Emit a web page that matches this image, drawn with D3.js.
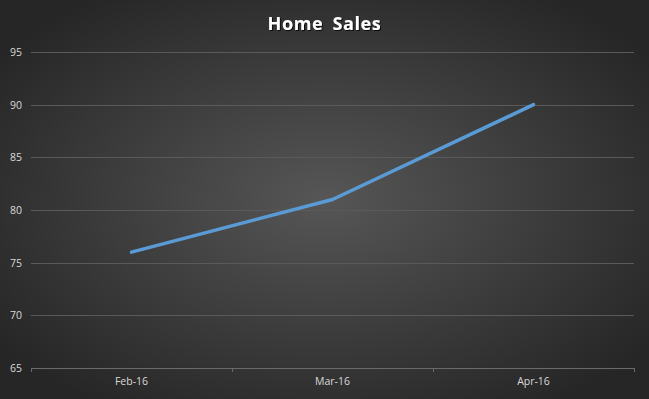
<!DOCTYPE html>
<html><head><meta charset="utf-8">
<script src="https://cdn.jsdelivr.net/npm/d3@7"></script>
<style>html,body{margin:0;padding:0;background:#2a2a2a;}svg{display:block;}</style>
</head><body>
<script>
const title = "Home Sales";
const categories = ["Feb-16", "Mar-16", "Apr-16"];
const sales = [76, 81, 90];
const yTicks = [65, 70, 75, 80, 85, 90, 95];

const W = 649, H = 399;
const m = {left: 31, right: 15, top: 52, bottom: 31};
const svg = d3.select("body").append("svg").attr("width", W).attr("height", H);
const defs = svg.append("defs");
const rg = defs.append("radialGradient").attr("id", "bg").attr("cx", "50%").attr("cy", "50%").attr("r", "62%");
rg.append("stop").attr("offset", "0%").attr("stop-color", "#565656");
rg.append("stop").attr("offset", "100%").attr("stop-color", "#262626");
const sh = defs.append("filter").attr("id", "ts").attr("x", "-10%").attr("y", "-30%").attr("width", "130%").attr("height", "160%");
sh.append("feDropShadow").attr("dx", 1).attr("dy", 1).attr("stdDeviation", 0.6).attr("flood-color", "#000").attr("flood-opacity", 0.8);

svg.append("rect").attr("width", W).attr("height", H).attr("fill", "url(#bg)");

const x = d3.scaleBand().domain(categories).range([m.left, W - m.right]);
const y = d3.scaleLinear().domain([65, 95]).range([H - m.bottom, m.top]);

// gridlines
const grid = svg.append("g").attr("class", "grid")
  .attr("transform", `translate(${m.left},0)`)
  .call(d3.axisLeft(y).tickValues(yTicks).tickSize(-(W - m.left - m.right)).tickFormat(""));
grid.select(".domain").remove();
grid.selectAll("line").attr("stroke", "#5a5a5a").attr("stroke-width", 1).attr("shape-rendering", "crispEdges");

// y labels
const yl = svg.append("g").attr("transform", `translate(${m.left},0)`)
  .call(d3.axisLeft(y).tickValues(yTicks).tickSize(0).tickPadding(9));
yl.select(".domain").remove();
yl.selectAll("text").attr("fill", "#d9d9d9").style("font-family", "'Open Sans', sans-serif").style("font-size", "10.5px");

// x axis
const xa = svg.append("g").attr("transform", `translate(0,${H - m.bottom})`)
  .call(d3.axisBottom(x).tickSize(0).tickPadding(10));
xa.select(".domain").attr("stroke", "#6a6a6a").attr("shape-rendering", "crispEdges")
  .attr("d", `M${m.left},0H${W - m.right}`);
xa.selectAll("text").attr("fill", "#d9d9d9").style("font-family", "'Open Sans', sans-serif").style("font-size", "10.5px");
// category boundary ticks
const bounds = categories.map(c => x(c)).concat([x(categories[categories.length - 1]) + x.bandwidth()]);
xa.selectAll("line.bt").data(bounds).enter().append("line").attr("class", "bt")
  .attr("x1", d => Math.round(d) + 0.5).attr("x2", d => Math.round(d) + 0.5)
  .attr("y1", 0).attr("y2", 4).attr("stroke", "#6a6a6a");

// line
const line = d3.line().x((d, i) => x(categories[i]) + x.bandwidth() / 2).y(d => y(d));
svg.append("path").datum(sales).attr("d", line).attr("fill", "none")
  .attr("stroke", "#5b9bd5").attr("stroke-width", 3.5).attr("stroke-linecap", "round").attr("stroke-linejoin", "round");

// title
svg.append("text").attr("x", W / 2).attr("y", 30).attr("text-anchor", "middle")
  .attr("fill", "#ffffff").attr("filter", "url(#ts)")
  .style("font-family", "'Open Sans', sans-serif").style("font-weight", "bold").style("font-size", "18px")
  .style("letter-spacing", "0.6px").style("word-spacing", "4px")
  .text(title);
</script>
</body></html>
